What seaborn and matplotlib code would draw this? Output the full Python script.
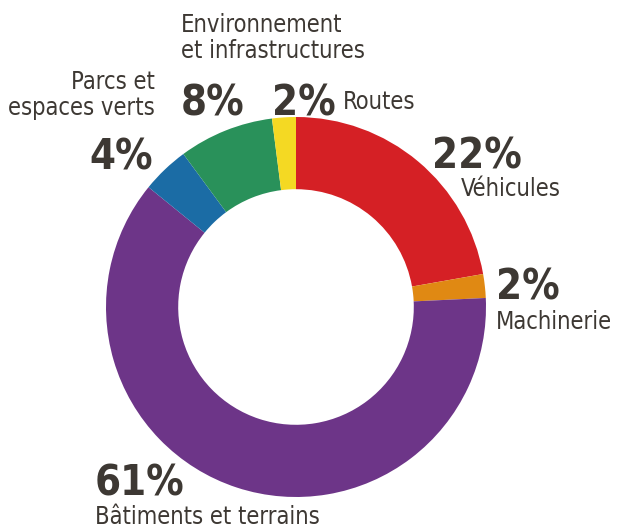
import matplotlib
matplotlib.use("Agg")
import matplotlib.pyplot as plt
import seaborn as sns

# Budget shares, clockwise from 12 o'clock
categories = ["Véhicules", "Machinerie", "Bâtiments et terrains",
              "Parcs et espaces verts", "Environnement et infrastructures", "Routes"]
shares = [22, 2, 61, 4, 8, 2]
colors = ["#D52025", "#E08913", "#6D3588", "#1B6CA5", "#29915A", "#F4D923"]
pct_labels = ["22%", "2%", "61%", "4%", "8%", "2%"]

sns.set_theme(style="white")
plt.rcParams["font.family"] = ["DejaVu Sans"]
TXT = "#3D3833"

W, H = 619, 530
fig = plt.figure(figsize=(W / 100, H / 100), dpi=100)
fig.patch.set_facecolor("white")

# donut centre / radius in pixels
cx, cy, r = 296, 307, 190
ax = fig.add_axes([(cx - r) / W, (H - cy - r) / H, 2 * r / W, 2 * r / H])
ax.pie(shares, colors=colors, startangle=90, counterclock=False,
       wedgeprops=dict(width=0.38, edgecolor="none"))
ax.set_xlim(-1, 1)
ax.set_ylim(-1, 1)
ax.axis("off")


def put(x, y, s, bold=False, size=17, ha="left", va="top", ls=1.05):
    fig.text(x / W, 1 - y / H, s, ha=ha, va=va, color=TXT, fontsize=size,
             fontweight="bold" if bold else "normal", fontstretch="condensed",
             linespacing=ls)


big = 30
# Environnement / Routes
put(181, 13, "Environnement\net infrastructures", ls=1.1)
put(181, 83, pct_labels[4], bold=True, size=big)
put(272, 83, pct_labels[5], bold=True, size=big)
put(343, 90, categories[5])
# Parcs
put(155, 70, "Parcs et\nespaces verts", ha="right", ls=1.1)
put(153, 137, pct_labels[3], bold=True, size=big, ha="right")
# Véhicules
put(432, 136, pct_labels[0], bold=True, size=big)
put(461, 177, categories[0])
# Machinerie
put(496, 266, pct_labels[1], bold=True, size=big)
put(496, 310, categories[1])
# Bâtiments
put(95, 463, pct_labels[2], bold=True, size=big)
put(95, 505, categories[2])

fig.savefig("out.png", dpi=100, facecolor="white")
